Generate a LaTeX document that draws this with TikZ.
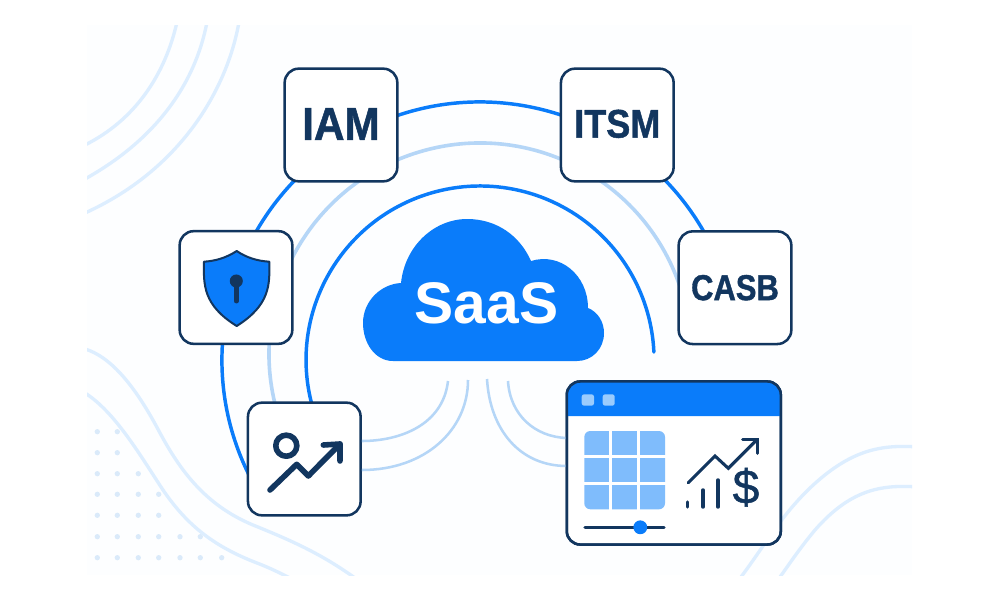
\documentclass[tikz,border=0pt]{standalone}
\usepackage{fontspec}
\usepackage{graphicx}
\setmainfont{Liberation Sans}
\newfontfamily\heavy[UprightFont={* Bold},UprightFeatures={FakeBold=1.2}]{Liberation Sans}
\newfontfamily\semi[UprightFeatures={FakeBold=1}]{Liberation Sans}
\definecolor{mainblue}{HTML}{0A7CFA}
\definecolor{navy}{HTML}{12365F}
\definecolor{lightarc}{HTML}{B5D6F7}
\definecolor{bgline}{HTML}{DDEEFF}
\definecolor{bgdot}{HTML}{DAEAFA}
\definecolor{gridblue}{HTML}{7FBCFC}
\definecolor{winbtn}{HTML}{9ACBFD}
\definecolor{panel}{HTML}{FDFEFF}
\tikzset{
  px/.style={x=0.75pt,y=-0.75pt},
  tile/.style={draw=navy,line width=1.9pt,fill=white,rounded corners=10.5pt,minimum width=84.5pt,minimum height=84.5pt,inner sep=0pt,text=navy},
  winframe/.style={draw=navy,line width=1.9pt,rounded corners=10pt},
  bluearc/.style={draw=mainblue,line width=2.6pt,line cap=round},
  palearc/.style={draw=lightarc,line width=2.7pt},
  feeder/.style={draw=lightarc,line width=1.9pt},
  bgwave/.style={draw=bgline,line width=2.5pt},
  dotmark/.style={fill=bgdot,draw=none},
  iconline/.style={draw=navy,line width=4.2pt,line cap=round,line join=round},
  miniline/.style={draw=navy,line width=2.3pt,line cap=round,line join=miter},
}
\begin{document}
\begin{tikzpicture}[px]
\useasboundingbox (0,0) rectangle (1000,600);
\fill[white] (0,0) rectangle (1000,600);
\fill[panel] (87,25) rectangle (912,575);
% background decoration
\begin{scope}
\clip (87,25) rectangle (912,575);
\draw[bgwave] (177,22) .. controls (165,75) and (135,120) .. (85,145);
\draw[bgwave] (207,22) .. controls (195,85) and (155,140) .. (85,179);
\draw[bgwave] (239,22) .. controls (227,90) and (180,170) .. (85,213);
\draw[bgwave] (85,349) .. controls (115,358) and (140,395) .. (160,433) .. controls (180,470) and (205,505) .. (253,525) .. controls (290,540) and (320,553) .. (355,578);
\draw[bgwave] (85,393) .. controls (115,412) and (140,455) .. (163,490) .. controls (185,522) and (210,545) .. (257,563) .. controls (270,568) and (280,573) .. (290,578);
\draw[bgwave] (914,446.7) .. controls (880,445) and (850,450) .. (810,488) .. controls (780,517) and (765,545) .. (741,577);
\draw[bgwave] (914,486.7) .. controls (880,485) and (850,490) .. (815,530) .. controls (800,548) and (790,563) .. (780,577);
\end{scope}
\foreach \xx/\yy in {97.3/431.7,117.3/431.7,97.3/452.7,117.3/452.7,97.3/473.7,117.3/473.7,138.3/473.7,
 97.3/494.3,117.3/494.3,138.3/494.3,158.7/494.3,97.3/515.3,117.3/515.3,138.3/515.3,158.7/515.3,
 97.3/536.7,117.3/536.7,138.3/536.7,158.7/536.7,180/536.7,200.3/536.7,
 97.3/557.7,117.3/557.7,138.3/557.7,158.7/557.7,180/557.7,200.3/557.7,221.7/557.7}
  {\fill[dotmark] (\xx,\yy) circle[radius=2pt];}
% arc end points
\coordinate (outerA) at (250.1,477.1);
\coordinate (middleA) at (276.2,408.6);
\coordinate (innerA) at (312,405);
\draw[bluearc] (outerA) arc[start angle=207,end angle=28,radius=193.5pt];
\draw[palearc] (middleA) arc[start angle=195,end angle=19,radius=158.25pt];
\draw[bluearc] (innerA) arc[start angle=195,end angle=2.6,radius=130.5pt];
% cloud
\fill[mainblue] (393,361) .. controls (375,361) and (363,343) .. (363,323)
  .. controls (363,301) and (381,284) .. (401,283)
  .. controls (405,245) and (435,219) .. (467,219)
  .. controls (497,219) and (520,236) .. (531,261)
  .. controls (560,252) and (588,275) .. (588,308)
  .. controls (598,312) and (604,322) .. (604,333)
  .. controls (604,349) and (592,361) .. (577,361) -- cycle;
\node[text=white,font=\fontsize{44}{50}\selectfont\bfseries,inner sep=0pt] (saas) at (486.5,303.5) {SaaS};
% tiles
\node[tile,font=\fontsize{34.5}{36}\selectfont\heavy] (iam) at (341,125) {\raisebox{1.5pt}{\scalebox{.92}[1]{IAM}}};
\node[tile,font=\fontsize{30}{32}\selectfont\heavy] (itsm) at (617.3,125) {\raisebox{2pt}{\scalebox{.9}[1]{ITSM}}};
\node[tile,font=\fontsize{27}{30}\selectfont\heavy] (casb) at (735,287.7) {\scalebox{.86}[1]{CASB}};
\node[tile] (shield) at (236,287.5) {};
\node[tile] (trend) at (304.3,459) {};
\node[draw=navy,line width=1.9pt,fill=white,rounded corners=10pt,minimum width=160.5pt,minimum height=122.3pt,inner sep=0pt,outer sep=0pt] (win) at (673.8,463) {};
% feeders
\coordinate (f1) at (448,381);
\coordinate (f2) at (468,380);
\coordinate (f3) at (487,379);
\coordinate (f4) at (508,381);
\draw[feeder] (f1) .. controls (443,425) and (400,441) .. (trend.east |- 0,441);
\draw[feeder] (f2) .. controls (468,430) and (425,470) .. (trend.east |- 0,470);
\draw[feeder] (f3) .. controls (490,430) and (520,466) .. (win.west |- 0,466);
\draw[feeder] (f4) .. controls (510,415) and (535,437) .. (win.west |- 0,438);
% shield icon
\draw[fill=mainblue,draw=navy,line width=1.5pt,line join=round] (236.7,251)
  .. controls (247,258) and (258,261) .. (269.3,261.7)
  .. controls (269.8,285) and (270,305) .. (236.7,326)
  .. controls (203,305) and (203.5,285) .. (204,261.7)
  .. controls (215,261) and (226,258) .. (236.7,251) -- cycle;
\fill[navy] (236.3,281) circle[radius=4.9pt];
\draw[navy,line width=3.7pt,line cap=round] (236.3,283) -- (236.3,301);
% trend icon
\draw[iconline] (286.3,445.7) circle[radius=7.9pt];
\draw[iconline] (270,490) -- (296.7,464.3) -- (308.3,476) -- (340,444);
\draw[iconline] (323.3,445) -- (340,444) -- (340,461);
% window
\fill[mainblue] (566.7,416) -- (566.7,394.6) arc[start angle=180,end angle=90,radius=10pt] -- (767.7,381.3) arc[start angle=90,end angle=0,radius=10pt] -- (781,416) -- cycle;
\draw[winframe] (win.south west) rectangle (win.north east);
\fill[winbtn,rounded corners=1.8pt] (581.7,394.3) rectangle (594,405.7);
\fill[winbtn,rounded corners=1.8pt] (602.7,394.3) rectangle (614.7,405.7);
\fill[gridblue,rounded corners=4.5pt] (584.3,431) rectangle (665,509.3);
\draw[white,line width=2.2pt] (610.7,429) -- (610.7,511) (638.3,429) -- (638.3,511) (582,456.3) -- (667,456.3) (582,483.3) -- (667,483.3);
\draw[navy,line width=2.3pt,line cap=round] (585,527.3) -- (664,527.3);
\fill[mainblue] (640.3,527.3) circle[radius=5.2pt];
\draw[miniline] (688.3,482.7) -- (715,456) -- (728.3,468.3) -- (757.3,439.3);
\draw[miniline] (742.7,439.3) -- (757.3,439.3) -- (757.3,453.3);
\draw[navy,line width=2.6pt,line cap=round] (687.3,502) -- (687.3,507) (703,490) -- (703,507) (718,480) -- (718,507);
\node[text=navy,font=\fontsize{36}{40}\selectfont\semi,inner sep=0pt] (dollar) at (746,487.3) {\$};
\end{tikzpicture}
\end{document}
